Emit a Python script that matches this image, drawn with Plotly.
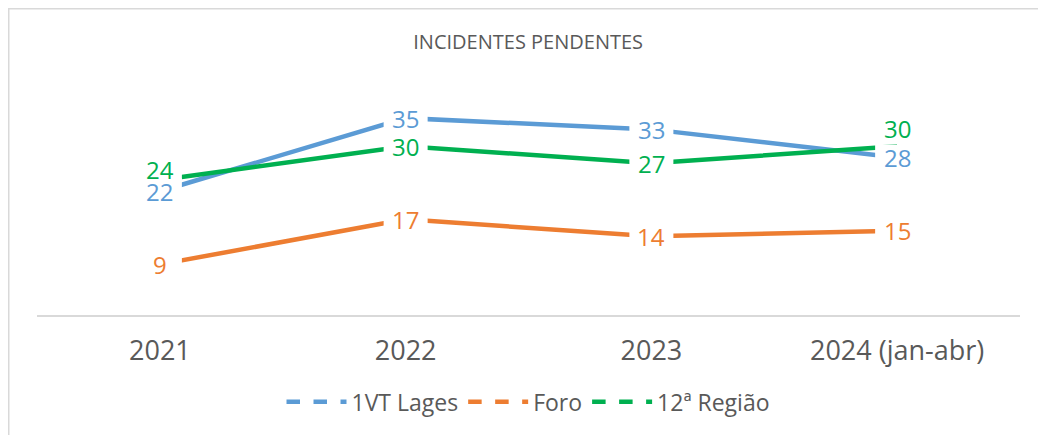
import plotly.graph_objs as go

anos=['2021','2022','2023','2024 (jan-abr)']
lages=[22,35,33,28]
foro=[9,17,14,15]
regiao=[24,30,27,30]

series=[('1VT Lages',lages,'#5B9BD5'),
		('Foro',foro,'#ED7D31'),
		('12ª Região',regiao,'#00B050')]

# labels that Excel pushed above the point to avoid overlap
shift={('12ª Região',0):11,('12ª Região',3):18}

traces=[]
fundos=[]
rotulos=[]
for nome,vals,cor in series:
	traces.append(go.Scatter(
			x=anos,
			y=vals,
			name=nome,
			mode='lines',
			line=dict(color=cor,width=4.5),
			showlegend=False,
			hoverinfo='x+y+name',
			))
	# legend only entry, dashed like the excel legend
	traces.append(go.Scatter(
			x=[anos[0]],
			y=[None],
			name=nome,
			mode='lines',
			line=dict(color=cor,width=4.5,dash='dash'),
			hoverinfo='skip',
			))
	for i in range(len(anos)):
		s=shift.get((nome,i),0)
		# white box hiding the line under the label (category index, '2021' would be read as a number)
		fundos.append(dict(type='rect',layer='above',xref='x',yref='y',
				xsizemode='pixel',xanchor=i,x0=-22,x1=22,
				ysizemode='pixel',yanchor=vals[i],y0=s-13,y1=s+13,
				fillcolor='white',line=dict(width=0)))
		rotulos.append(dict(x=i,y=vals[i],xref='x',yref='y',text=str(vals[i]),showarrow=False,
				yshift=s,font=dict(size=24,color=cor,family='Open Sans')))

# page body has an 8px margin, so the figure is 16px smaller than the window
fig=go.Figure(data=traces)
fig.update_layout(
	width=1030,height=427,
	paper_bgcolor='white',plot_bgcolor='white',
	font=dict(family='Open Sans',color='#595959'),
	title=dict(text='INCIDENTES PENDENTES',x=0.505,xanchor='center',y=1-34/427,yanchor='middle',
				font=dict(size=20,color='#595959')),
	xaxis=dict(type='category',categoryorder='array',categoryarray=anos,range=[-0.5,3.5],automargin=False,
				showgrid=False,zeroline=False,showline=True,linecolor='#D9D9D9',linewidth=1.5,
				ticks='outside',ticklen=11,tickcolor='rgba(0,0,0,0)',tickfont=dict(size=27,color='#595959')),
	yaxis=dict(range=[0,40],visible=False),
	legend=dict(orientation='h',x=0.5,xanchor='center',y=-0.386,yanchor='middle',
				font=dict(size=23,color='#595959'),itemwidth=60),
	annotations=rotulos,
	# chart border, only left and top edges are inside the picture
	shapes=fundos+[dict(type='path',xref='paper',yref='paper',
				path='M %f,-1 L %f,%f L 1.5,%f'%(-28.5/983,-28.5/983,310.5/228,310.5/228),
				line=dict(color='#D9D9D9',width=2))],
	margin=dict(l=29,r=18,t=82,b=117),
)
fig.write_html("out.html")
